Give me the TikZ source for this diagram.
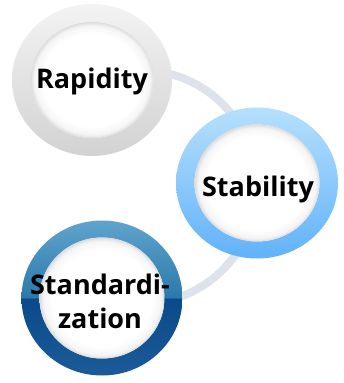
\documentclass[tikz,border=0pt]{standalone}
\usepackage{fontspec}
\setmainfont{Open Sans}
\definecolor{conn}{HTML}{DEE2EA}
\definecolor{grA}{HTML}{F3F3F3}
\definecolor{grB}{HTML}{D2D2D2}
\definecolor{blA}{HTML}{B6E0FC}
\definecolor{blB}{HTML}{61B2FA}
\definecolor{dbA}{HTML}{5FA4CC}
\definecolor{dbB}{HTML}{2B79AB}
\definecolor{dbC}{HTML}{0A4A8A}
\definecolor{dbD}{HTML}{1C5B98}
\definecolor{shad}{HTML}{DCDCDC}
\pgfdeclareverticalshading{grring}{100bp}{color(0bp)=(grB); color(25bp)=(grB); color(75bp)=(grA); color(100bp)=(grA)}
\pgfdeclareverticalshading{blring}{100bp}{color(0bp)=(blB); color(25bp)=(blB); color(75bp)=(blA); color(100bp)=(blA)}
\pgfdeclareverticalshading{dbring}{100bp}{color(0bp)=(dbD); color(25bp)=(dbD); color(50bp)=(dbC); color(50.01bp)=(dbB); color(75bp)=(dbA); color(100bp)=(dbA)}
\pgfdeclareradialshading{innerw}{\pgfpoint{0bp}{0bp}}{color(0bp)=(white); color(20bp)=(white); color(23.5bp)=(white!96!black); color(25bp)=(shad); color(50bp)=(shad)}
\tikzset{
  ringlabel/.style={font=\bfseries\fontsize{27}{34}\selectfont, align=center, text=black, inner sep=0pt},
  connector/.style={draw=conn, line width=8pt}
}
\begin{document}
\begin{tikzpicture}[x=1pt,y=-1pt]
\useasboundingbox (0,0) rectangle (343,383);
% connector arc (big circle through centers)
\coordinate (hub) at (140,187);
\draw[connector] ([shift={(-47.6,-106.9)}]hub) arc[start angle=246, end angle=469, radius=117];
% gray ring
\coordinate (r) at (92,80);
\shade[shading=grring, even odd rule] (r) ellipse [x radius=80, y radius=76] (r) ellipse [x radius=61.5, y radius=58];
\shade[shading=innerw] (r) ellipse [x radius=61.5, y radius=58];
\node[ringlabel, anchor=base] (rl) at (92,88) {Rapidity};
% blue ring
\coordinate (s) at (257,183);
\shade[shading=blring, even odd rule] (s) ellipse [x radius=81, y radius=75.5] (s) ellipse [x radius=62.5, y radius=58.5];
\shade[shading=innerw] (s) ellipse [x radius=62.5, y radius=58.5];
\node[ringlabel, anchor=base] (sl) at (258,196) {Stability};
% dark blue ring
\coordinate (d) at (102,298);
\shade[shading=dbring, even odd rule] (d) ellipse [x radius=80.5, y radius=77.5] (d) ellipse [x radius=62.5, y radius=60.5];
\shade[shading=innerw] (d) ellipse [x radius=62.5, y radius=60.5];
\node[ringlabel] (dl) at (100,301) {Standardi-\\zation};
\end{tikzpicture}
\end{document}
